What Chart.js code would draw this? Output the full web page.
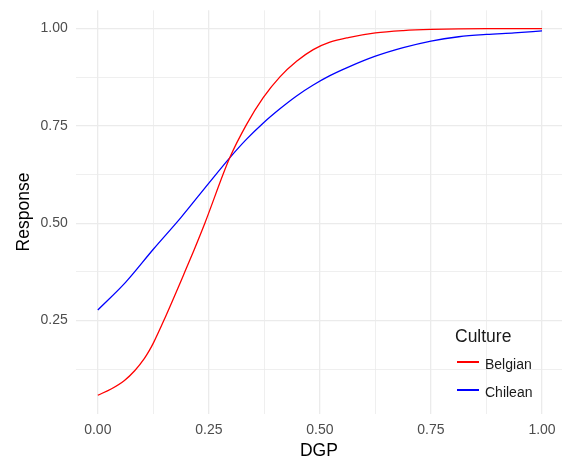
<!DOCTYPE html>
<html>
<head>
<meta charset="utf-8">
<script src="https://cdn.jsdelivr.net/npm/chart.js@4"></script>
<style>
  html, body { margin: 0; padding: 0; background: #fff; }
  #wrap { position: relative; width: 562px; height: 459px; font-family: "Liberation Sans", Arial, sans-serif; }
  #lineChart { display: block; }
  #legend { position: absolute; left: 0; top: 0; }
  .lg-title { position: absolute; left: 455px; top: 328px; font-size: 17.5px; line-height: 1; color: #1a1a1a; white-space: nowrap; }
  .lg-key { position: absolute; left: 457px; width: 22px; height: 1.3px; }
  .lg-text { position: absolute; left: 485px; font-size: 14px; line-height: 1; color: #1a1a1a; white-space: nowrap; }
</style>
</head>
<body>
<div id="wrap">
  <canvas id="lineChart" width="562" height="459"></canvas>
  <div id="legend"></div>
</div>
<script>
// values (DGP, Response)
const belgianX = [0, 0.03, 0.06, 0.083, 0.105, 0.1155, 0.125, 0.1486, 0.196, 0.217, 0.241, 0.297, 0.335, 0.372, 0.41, 0.4475, 0.485, 0.5225, 0.564, 0.625, 0.6875, 0.75, 0.875, 1];
const belgianY = [0.058, 0.074, 0.096, 0.121, 0.153, 0.172, 0.192, 0.25, 0.375, 0.432, 0.5, 0.668, 0.754, 0.822, 0.876, 0.916, 0.946, 0.965, 0.977, 0.989, 0.995, 0.998, 1.0, 1.0];
const chileanX = [0, 0.0625, 0.125, 0.1875, 0.25, 0.297, 0.335, 0.372, 0.41, 0.4475, 0.485, 0.5225, 0.564, 0.625, 0.6875, 0.75, 0.8125, 0.875, 0.9375, 1];
const chileanY = [0.277, 0.348, 0.433, 0.515, 0.603, 0.668, 0.716, 0.757, 0.794, 0.827, 0.855, 0.879, 0.901, 0.929, 0.951, 0.968, 0.979, 0.985, 0.989, 0.994];
const seriesNames = ["Belgian", "Chilean"];
const seriesColors = ["#ff0000", "#0000ff"];
const xTicks = [0, 0.125, 0.25, 0.375, 0.5, 0.625, 0.75, 0.875, 1];
const yTicks = [0.125, 0.25, 0.375, 0.5, 0.625, 0.75, 0.875, 1];

const isMajor = v => Math.abs(v * 4 - Math.round(v * 4)) < 1e-6;
const gridWidth = ctx => (ctx.tick && isMajor(ctx.tick.value)) ? 1.3 : 0.8;
const FONT = "'Liberation Sans', Arial, sans-serif";
const toPoints = (xs, ys) => xs.map((x, i) => ({ x: x, y: ys[i] }));

const CHART = document.getElementById("lineChart");
let lineChart = new Chart(CHART, {
    type: 'line',
    data: {
        datasets: [
            {
                label: seriesNames[0],
                data: toPoints(belgianX, belgianY),
                borderColor: seriesColors[0],
                borderWidth: 1.3,
                pointRadius: 0,
                cubicInterpolationMode: 'monotone',
                fill: false
            },
            {
                label: seriesNames[1],
                data: toPoints(chileanX, chileanY),
                borderColor: seriesColors[1],
                borderWidth: 1.3,
                pointRadius: 0,
                cubicInterpolationMode: 'monotone',
                fill: false
            }
        ]
    },
    options: {
        responsive: false,
        animation: false,
        layout: { padding: { top: 10.3, right: 0, bottom: 0, left: 0 } },
        plugins: { legend: { display: false }, tooltip: { enabled: false } },
        scales: {
            x: {
                type: 'linear',
                min: -0.0495,
                max: 1.045,
                afterBuildTicks: s => { s.ticks = xTicks.map(v => ({ value: v })); },
                afterFit: s => { s.height = 45.3; s.paddingLeft = 0; s.paddingRight = 0; },
                grid: { color: '#ebebeb', lineWidth: gridWidth, drawTicks: false },
                border: { display: false },
                ticks: {
                    autoSkip: false,
                    maxRotation: 0,
                    padding: 8,
                    color: '#4d4d4d',
                    font: { family: FONT, size: 14 },
                    callback: v => isMajor(v) ? v.toFixed(2) : ''
                },
                title: {
                    display: true,
                    text: 'DGP',
                    color: '#000',
                    padding: 0,
                    font: { family: FONT, size: 17.5, lineHeight: 0.85 }
                }
            },
            y: {
                type: 'linear',
                min: 0.0106,
                max: 1.047,
                afterBuildTicks: s => { s.ticks = yTicks.map(v => ({ value: v })); },
                afterFit: s => { s.width = 75.8; s.paddingTop = 0; s.paddingBottom = 0; },
                grid: { color: '#ebebeb', lineWidth: gridWidth, drawTicks: false },
                border: { display: false },
                ticks: {
                    autoSkip: false,
                    padding: 8,
                    color: '#4d4d4d',
                    font: { family: FONT, size: 14 },
                    callback: v => isMajor(v) ? v.toFixed(2) : ''
                },
                title: {
                    display: true,
                    text: 'Response',
                    color: '#000',
                    padding: { top: 13.5, bottom: 0 },
                    font: { family: FONT, size: 17.5, lineHeight: 1.2 }
                }
            }
        }
    }
});

// legend inside the panel, bottom right
const legend = document.getElementById("legend");
let html = '<div class="lg-title">Culture</div>';
const keyY = [362, 390];
lineChart.data.datasets.forEach((ds, i) => {
    html += '<div class="lg-key" style="top:' + (keyY[i] - 0.65) + 'px;background:' + ds.borderColor + '"></div>';
    html += '<div class="lg-text" style="top:' + (keyY[i] - 4.8) + 'px">' + ds.label + '</div>';
});
legend.innerHTML = html;
</script>
</body>
</html>
